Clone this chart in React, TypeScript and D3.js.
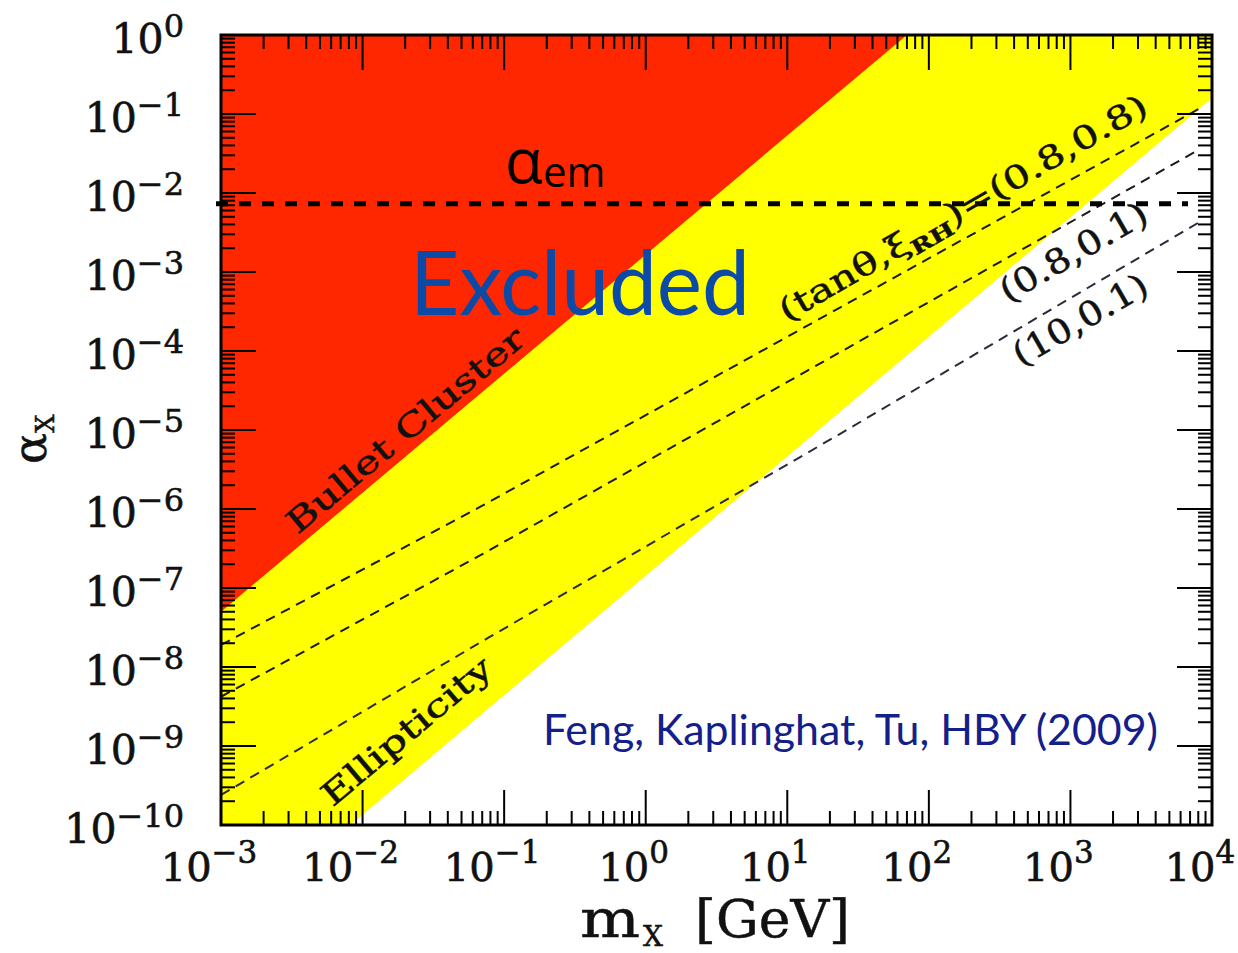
import { line, range, scaleLog } from 'd3';

// axis decades (exponents of ten)
const massExponents = [-3, -2, -1, 0, 1, 2, 3, 4];
const alphaExponents = [0, -1, -2, -3, -4, -5, -6, -7, -8, -9, -10];

// Bullet Cluster bound (red, excluded above)
const bulletMass = [1e-3, 70];
const bulletAlpha = [5e-8, 1];

// Ellipticity bound (yellow, excluded above)
const ellipMass = [8.2e-3, 1e4];
const ellipAlpha = [1e-10, 0.16];

// relic density curves, labelled by (tanθ, ξ_RH)
const curve0808Mass = [1e-3, 6.8e-2, 8e3];
const curve0808Alpha = [1.9e-8, 1.07e-6, 1.15e-1];
const curve0801Mass = [1e-3, 6.8e-2, 8e3];
const curve0801Alpha = [4.2e-9, 2.6e-7, 3.5e-2];
const curve1001Mass = [1e-3, 7.9e-2, 2.3e1, 8e3];
const curve1001Alpha = [2.4e-10, 2.4e-8, 8.7e-6, 4.2e-3];

const alphaEm = 1 / 137;

const zip = (a: number[], b: number[]) => a.map((v, i) => [v, b[i]] as [number, number]);

const SERIF = '"DejaVu Serif", serif';
const SANS = 'Lato, "Open Sans", sans-serif';

export default function App() {
  const width = 1238;
  const height = 953;
  const margin = { top: 35, right: 26, bottom: 128, left: 221 };

  const x = scaleLog()
    .domain([1e-3, 1e4])
    .range([margin.left, width - margin.right]);
  const y = scaleLog()
    .domain([1e-10, 1])
    .range([height - margin.bottom, margin.top]);

  const [x0, x1] = x.range();
  const [y0, y1] = y.range();

  const path = line<[number, number]>()
    .x((d) => x(d[0]))
    .y((d) => y(d[1]));

  const yellowPoly: [number, number][] = [
    [1e-3, 1e-10],
    ...zip(ellipMass, ellipAlpha),
    [1e4, 1],
    [1e-3, 1],
  ];
  const redPoly: [number, number][] = [...zip(bulletMass, bulletAlpha), [1e-3, 1]];

  const minor = (exps: number[]) =>
    exps
      .slice()
      .sort((a, b) => a - b)
      .slice(0, -1)
      .flatMap((e) => range(2, 10).map((k) => k * Math.pow(10, e)));
  const xMinor = minor(massExponents);
  const yMinor = minor(alphaExponents);

  const major = 35;
  const small = 14;

  const curves = [
    zip(curve0808Mass, curve0808Alpha),
    zip(curve0801Mass, curve0801Alpha),
    zip(curve1001Mass, curve1001Alpha),
  ];

  const rotLabel = (
    m: number,
    a: number,
    angle: number,
    len: number,
    size: number,
    children: any,
    key: string,
  ) => (
    <text
      key={key}
      transform={`translate(${x(m)},${y(a)}) rotate(${angle})`}
      textAnchor='middle'
      dy='0.35em'
      fontFamily={SERIF}
      fontSize={size}
      textLength={len}
      lengthAdjust='spacingAndGlyphs'
      fill='#111'
      stroke='#111'
      strokeWidth={0.5}>
      {children}
    </text>
  );

  const sup = (e: number) => (e < 0 ? '\u2212' + -e : String(e));

  return (
    <svg
      width={width}
      height={height}
      style={{ position: 'absolute', left: 0, top: 0, background: '#fff' }}>
      <defs>
        <clipPath id='plot'>
          <rect x={x0} y={y1} width={x1 - x0} height={y0 - y1} />
        </clipPath>
      </defs>
      <g clipPath='url(#plot)'>
        <path d={path(yellowPoly) + 'Z'} fill='#ffff00' />
        <path d={path(redPoly) + 'Z'} fill='#ff2700' />
        {curves.map((c, i) => (
          <path
            key={i}
            d={path(c)}
            fill='none'
            stroke={i === 2 ? '#2a2a3a' : '#1a1a1a'}
            strokeWidth={2}
            strokeDasharray='10 7'
          />
        ))}
      </g>

      {/* ticks on all four sides */}
      <g stroke='#000' strokeWidth={2}>
        {massExponents.map((e) => {
          const px = x(Math.pow(10, e));
          return (
            <g key={'xm' + e}>
              <line x1={px} x2={px} y1={y0} y2={y0 - major} />
              <line x1={px} x2={px} y1={y1} y2={y1 + major} />
            </g>
          );
        })}
        {xMinor.map((v, i) => (
          <g key={'xn' + i}>
            <line x1={x(v)} x2={x(v)} y1={y0} y2={y0 - small} />
            <line x1={x(v)} x2={x(v)} y1={y1} y2={y1 + small} />
          </g>
        ))}
        {alphaExponents.map((e) => {
          const py = y(Math.pow(10, e));
          return (
            <g key={'ym' + e}>
              <line x1={x0} x2={x0 + major} y1={py} y2={py} />
              <line x1={x1} x2={x1 - major} y1={py} y2={py} />
            </g>
          );
        })}
        {yMinor.map((v, i) => (
          <g key={'yn' + i}>
            <line x1={x0} x2={x0 + small} y1={y(v)} y2={y(v)} />
            <line x1={x1} x2={x1 - small} y1={y(v)} y2={y(v)} />
          </g>
        ))}
      </g>
      <rect
        x={x0}
        y={y1}
        width={x1 - x0}
        height={y0 - y1}
        fill='none'
        stroke='#000'
        strokeWidth={3}
      />

      {/* alpha_em line */}
      <line
        x1={x0 - 5}
        x2={x1 - 24}
        y1={y(alphaEm)}
        y2={y(alphaEm)}
        stroke='#000'
        strokeWidth={5}
        strokeDasharray='12 11'
      />

      {/* tick labels */}
      <g fontFamily={SERIF} fill='#111' stroke='#111' strokeWidth={0.6}>
        {massExponents.map((e) => (
          <text key={'xl' + e} x={x(Math.pow(10, e)) - 12} y={y0 + 56} textAnchor='middle' fontSize={40}>
            10
            <tspan fontSize={31} dy={-18}>
              {sup(e)}
            </tspan>
          </text>
        ))}
        {alphaExponents.map((e) => (
          <text key={'yl' + e} x={184} y={y(Math.pow(10, e)) + 18} textAnchor='end' fontSize={41}>
            10
            <tspan fontSize={32} dy={-16}>
              {sup(e)}
            </tspan>
          </text>
        ))}
      </g>

      {/* axis titles */}
      <g fontFamily={SERIF} fill='#111' stroke='#111' strokeWidth={0.5}>
        <text x={580} y={937} fontSize={52} textLength={60} lengthAdjust='spacingAndGlyphs'>
          m
        </text>
        <text x={643} y={946} fontSize={28}>
          X
        </text>
        <text x={695} y={937} fontSize={52} textLength={155} lengthAdjust='spacingAndGlyphs'>
          [GeV]
        </text>
        <g transform='translate(46,464) rotate(-90)'>
          <text fontSize={46}>
            α
            <tspan fontSize={26} dy={8}>
              X
            </tspan>
          </text>
        </g>
      </g>

      {/* region and curve labels */}
      {rotLabel(0.02, 1e-5, -40, 300, 32, 'Bullet Cluster', 'bc')}
      {rotLabel(0.0204, 1.55e-9, -40, 212, 32, 'Ellipticity', 'el')}
      {rotLabel(
        174,
        6.5e-3,
        -30,
        420,
        32,
        <>
          (tanθ,ξ
          <tspan fontSize={20} fontWeight='bold' dy={7}>
            RH
          </tspan>
          <tspan dy={-7}>)=(0.8,0.8)</tspan>
        </>,
        'c1',
      )}
      {rotLabel(1050, 1.8e-3, -30, 165, 34, '(0.8,0.1)', 'c2')}
      {rotLabel(1170, 2.5e-4, -30, 150, 34, '(10,0.1)', 'c3')}

      <text x={505} y={183} fontFamily='"Open Sans", sans-serif' fill='#000'>
        <tspan fontSize={62}>α</tspan>
        <tspan fontSize={42} dy={4}>
          em
        </tspan>
      </text>
      <text
        x={410}
        y={315}
        fontFamily={SANS}
        fontSize={90}
        fill='#0c4aa8'
        textLength={340}
        lengthAdjust='spacingAndGlyphs'>
        Excluded
      </text>
      <text
        x={543}
        y={745}
        fontFamily={SANS}
        fontSize={43}
        fill='#14208a'
        textLength={615}
        lengthAdjust='spacingAndGlyphs'>
        Feng, Kaplinghat, Tu, HBY (2009)
      </text>
    </svg>
  );
}
